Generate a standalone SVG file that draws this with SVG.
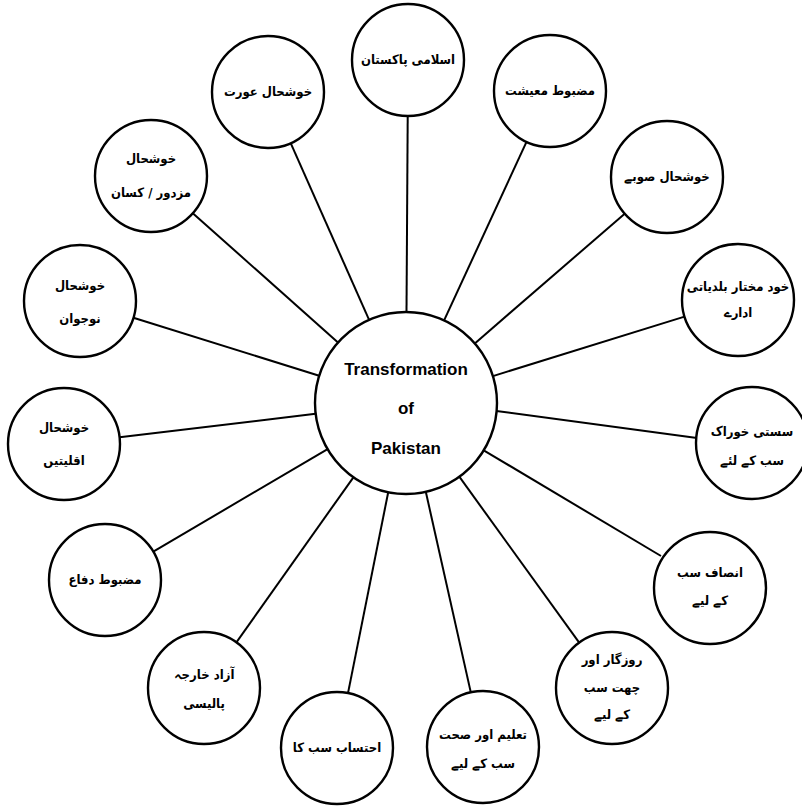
<svg xmlns="http://www.w3.org/2000/svg" width="802" height="806" viewBox="0 0 802 806">
<style>
.n{fill:#fff;stroke:#000;stroke-width:2.4}
.c line{stroke:#000;stroke-width:2}
.u{font-family:"DejaVu Sans Condensed","DejaVu Sans",sans-serif;font-weight:bold;font-size:13px;text-anchor:middle;fill:#000}
.e{font-family:"Liberation Sans",Arial,sans-serif;font-weight:bold;font-size:17px;text-anchor:middle;fill:#000}
</style>
<rect width="802" height="806" fill="#fff"/>
<g class="c" id="connectors">
<line x1="406.5" y1="312" x2="407.7" y2="116"/>
<line x1="444.1" y1="320.4" x2="526.5" y2="141.9"/>
<line x1="474.8" y1="343.4" x2="624.7" y2="213.7"/>
<line x1="492.9" y1="376.1" x2="684.5" y2="316.6"/>
<line x1="496.4" y1="411" x2="697" y2="438"/>
<line x1="483.7" y1="450.3" x2="661" y2="556"/>
<line x1="459.3" y1="476.7" x2="579.2" y2="642.6"/>
<line x1="425.8" y1="491.8" x2="470.8" y2="692.4"/>
<line x1="388.2" y1="492.3" x2="348" y2="693.1"/>
<line x1="353.4" y1="477.3" x2="236.4" y2="642.3"/>
<line x1="327.6" y1="449.1" x2="153.3" y2="551.6"/>
<line x1="315.6" y1="413.8" x2="119.6" y2="437.3"/>
<line x1="319.2" y1="375.8" x2="133.4" y2="317.7"/>
<line x1="338" y1="342.5" x2="192.8" y2="213.2"/>
<line x1="369.1" y1="319.8" x2="290.7" y2="143.2"/>
</g>
<g id="center">
<circle class="n" cx="406" cy="403" r="91"/>
<text class="e" x="406" y="375">Transformation</text>
<text class="e" x="406" y="414">of</text>
<text class="e" x="406" y="454">Pakistan</text>
</g>
<g id="n1"><circle class="n" cx="408" cy="60" r="56"/><text class="u" x="408" y="64">اسلامی پاکستان</text></g>
<g id="n2"><circle class="n" cx="550" cy="91" r="56"/><text class="u" x="550" y="95">مضبوط معیشت</text></g>
<g id="n3"><circle class="n" cx="667" cy="177" r="56"/><text class="u" x="667" y="181">خوشحال صوبے</text></g>
<g id="n4"><circle class="n" cx="738" cy="300" r="56"/><text class="u" x="738" y="291">خود مختار بلدیاتی</text><text class="u" x="738" y="317">ادارے</text></g>
<g id="n5"><circle class="n" cx="752" cy="443" r="56"/><text class="u" x="752" y="436">سستی خوراک</text><text class="u" x="752" y="465">سب کے لئے</text></g>
<g id="n6"><circle class="n" cx="710" cy="588" r="56"/><text class="u" x="710" y="577">انصاف سب</text><text class="u" x="710" y="605">کے لیے</text></g>
<g id="n7"><circle class="n" cx="612" cy="688" r="56"/><text class="u" x="612" y="664">روزگار اور</text><text class="u" x="612" y="692">چھت سب</text><text class="u" x="612" y="719">کے لیے</text></g>
<g id="n8"><circle class="n" cx="483" cy="747" r="56"/><text class="u" x="483" y="739">تعلیم اور صحت</text><text class="u" x="483" y="768">سب کے لیے</text></g>
<g id="n9"><circle class="n" cx="337" cy="748" r="56"/><text class="u" x="337" y="752">احتساب سب کا</text></g>
<g id="n10"><circle class="n" cx="204" cy="688" r="56"/><text class="u" x="204" y="679">آزاد خارجہ</text><text class="u" x="204" y="708">پالیسی</text></g>
<g id="n11"><circle class="n" cx="105" cy="580" r="56"/><text class="u" x="105" y="584">مضبوط دفاع</text></g>
<g id="n12"><circle class="n" cx="64" cy="444" r="56"/><text class="u" x="64" y="432">خوشحال</text><text class="u" x="64" y="465">اقلیتیں</text></g>
<g id="n13"><circle class="n" cx="80" cy="301" r="56"/><text class="u" x="80" y="290">خوشحال</text><text class="u" x="80" y="323">نوجوان</text></g>
<g id="n14"><circle class="n" cx="151" cy="176" r="56"/><text class="u" x="151" y="163">خوشحال</text><text class="u" x="151" y="197">مزدور / کسان</text></g>
<g id="n15"><circle class="n" cx="268" cy="92" r="56"/><text class="u" x="268" y="96">خوشحال عورت</text></g>
</svg>
